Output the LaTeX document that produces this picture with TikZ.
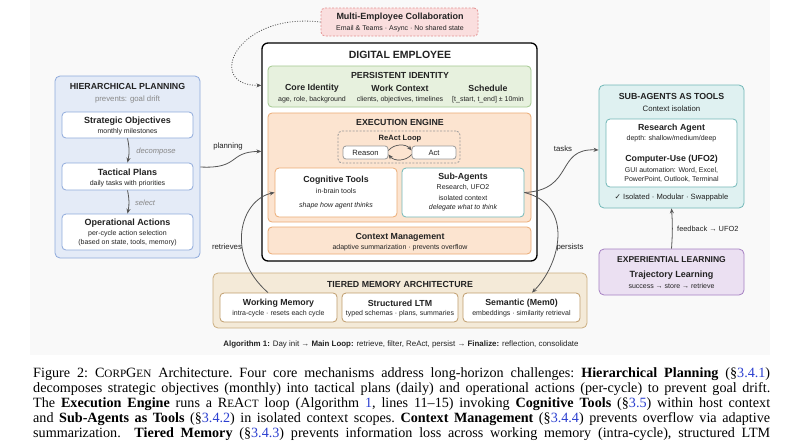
\documentclass[tikz,border=0pt]{standalone}
\usepackage{fontspec}
\setmainfont{Liberation Sans}
\newfontfamily\capfont{Liberation Serif}
\newfontfamily\symfont{DejaVu Sans}
\usetikzlibrary{fit,arrows.meta}
\definecolor{bluef}{HTML}{E4EBF7}\definecolor{blued}{HTML}{8EAADB}
\definecolor{greenf}{HTML}{E7F1DE}\definecolor{greend}{HTML}{A3C98F}
\definecolor{orangef}{HTML}{FCE4D0}\definecolor{oranged}{HTML}{EBAB74}
\definecolor{tealf}{HTML}{DFF1F1}\definecolor{teald}{HTML}{72B8B8}
\definecolor{purplef}{HTML}{EBE0F2}\definecolor{purpled}{HTML}{A681C3}
\definecolor{tanf}{HTML}{F4EAD8}\definecolor{tand}{HTML}{CBAE80}\definecolor{tanin}{HTML}{BF9C6B}
\definecolor{pinkf}{HTML}{FADEDE}\definecolor{pinkd}{HTML}{E39292}
\definecolor{grayd}{HTML}{9A9A9A}\definecolor{arrowc}{HTML}{555555}
\definecolor{txt}{HTML}{222222}\definecolor{lgray}{HTML}{888888}
\definecolor{lnkc}{HTML}{2B3FD0}\definecolor{panel}{HTML}{F9F9F9}
\newcommand\fz[1]{\fontsize{#1pt}{#1pt}\selectfont}
\newcommand\lnk[1]{\textcolor{lnkc}{#1}}
\newcommand\smc[1]{{\fontsize{11.2pt}{15pt}\selectfont #1}}
\tikzset{
 bx/.style={rounded corners=4pt, line width=0.8pt, inner sep=0pt},
 hdr/.style={font=\fz{8.8}\bfseries, text=txt, inner sep=0pt},
 ttl/.style={font=\fz{8.8}\bfseries, text=txt, inner sep=0pt},
 sub/.style={font=\fz{7}, text=txt, inner sep=0pt},
 ital/.style={font=\fz{7}\itshape, text=txt, inner sep=0pt},
 clab/.style={font=\fz{7.8}, text=txt, inner sep=0pt},
 conn/.style={-{Stealth[length=5pt,width=4pt]}, line width=0.8pt, draw=arrowc},
}
\begin{document}
\begin{tikzpicture}[x=1pt,y=-1pt]
\useasboundingbox (0,0) rectangle (800,445);
\fill[white] (0,0) rectangle (800,445);
\fill[panel] (30,0) rectangle (770,355);
% collaboration
\node[bx, fill=pinkf, draw=pinkd, dash pattern=on 2pt off 1.5pt, fit={(321,8)(478,36)}] (collab) {};
\node[ttl, font=\fz{9}\bfseries] (collabt) at (400,17) {Multi-Employee Collaboration};
\node[sub] (collabs) at (400,28.5) {Email \& Teams · Async · No shared state};
% digital employee
\node[rounded corners=6pt, line width=1.3pt, draw=black, fill=white, inner sep=0pt, fit={(262,43)(537,261)}] (de) {};
\node[ttl, font=\fz{10.5}\bfseries] (det) at (400,55) {DIGITAL EMPLOYEE};
% persistent identity
\node[bx, fill=greenf, draw=greend, fit={(268,66)(531,107)}] (pi) {};
\node[hdr] (pit) at (400,75) {PERSISTENT IDENTITY};
\node[ttl] (ci) at (312,88.5) {Core Identity};
\node[sub] (cis) at (312,99.5) {age, role, background};
\node[ttl] (wc) at (400,88.5) {Work Context};
\node[sub] (wcs) at (400,99.5) {clients, objectives, timelines};
\node[ttl] (sch) at (488,88.5) {Schedule};
\node[sub] (schs) at (488,99.5) {[t\_start, t\_end] ± 10min};
% execution engine
\node[bx, fill=orangef, draw=oranged, fit={(268,113)(531,222)}] (ee) {};
\node[hdr] (eet) at (400,122) {EXECUTION ENGINE};
\node[bx, draw=grayd, dash pattern=on 2pt off 1.5pt, fit={(338,131)(460,163)}] (react) {};
\node[ttl, font=\fz{7.6}\bfseries] (reactt) at (400,138.5) {ReAct Loop};
\node[bx, rounded corners=3pt, draw=grayd, fill=white, fit={(343,146)(388,159)}] (reason) {};
\node[sub, font=\fz{7.6}] (reasont) at (reason.center) {Reason};
\node[bx, rounded corners=3pt, draw=grayd, fill=white, fit={(412,146)(456,159)}] (act) {};
\node[sub, font=\fz{7.6}] (actt) at (act.center) {Act};
\draw[conn, line width=0.7pt] ([yshift=2pt]reason.east) to[bend left=50] ([yshift=2pt]act.west);
\draw[conn, line width=0.7pt] ([yshift=-2pt]act.west) to[bend left=50] ([yshift=-2pt]reason.east);
\node[bx, fill=white, draw=oranged, fit={(275,168)(397,217)}] (cog) {};
\node[ttl] (cogt) at (336,180) {Cognitive Tools};
\node[sub] (cogs) at (336,191) {in-brain tools};
\node[ital] (cogi) at (336,206) {shape how agent thinks};
\node[bx, fill=white, draw=teald, fit={(402,168)(524,217)}] (sa) {};
\node[ttl] (sat1) at (463,177) {Sub-Agents};
\node[sub] (sas1) at (463,187.5) {Research, UFO2};
\node[sub] (sas2) at (463,197.5) {isolated context};
\node[ital] (sai) at (463,208) {delegate what to think};
\node[bx, fill=orangef, draw=oranged, fit={(268,227)(531,254)}] (cm) {};
\node[ttl] (cmt) at (400,237) {Context Management};
\node[sub] (cms) at (400,248) {adaptive summarization · prevents overflow};
% hierarchical planning
\node[bx, rounded corners=5pt, fill=bluef, draw=blued, fit={(55,76)(200,258)}] (hp) {};
\node[hdr] (hpt) at (127.5,86) {HIERARCHICAL PLANNING};
\node[sub, font=\fz{7.8}, text=lgray] (hps) at (127.5,99) {prevents: goal drift};
\node[bx, fill=white, draw=blued, fit={(62,112)(193,138)}] (so) {};
\node[ttl, font=\fz{9}\bfseries] (sot) at (127.5,121) {Strategic Objectives};
\node[sub] (sos) at (127.5,132) {monthly milestones};
\node[bx, fill=white, draw=blued, fit={(62,163)(193,190)}] (tp) {};
\node[ttl, font=\fz{9}\bfseries] (tpt) at (127.5,172.5) {Tactical Plans};
\node[sub] (tps) at (127.5,183.5) {daily tasks with priorities};
\node[bx, fill=white, draw=blued, fit={(62,214)(193,250)}] (oa) {};
\node[ttl, font=\fz{9}\bfseries] (oat) at (127.5,223.5) {Operational Actions};
\node[sub] (oas1) at (127.5,234) {per-cycle action selection};
\node[sub] (oas2) at (127.5,243) {(based on state, tools, memory)};
\draw[conn] (so.south) to[bend left=12] (tp.north);
\draw[conn] (tp.south) to[bend left=12] (oa.north);
\node[ital, font=\fz{7.6}\itshape, text=lgray] (dec) at (156,152) {decompose};
\node[ital, font=\fz{7.6}\itshape, text=lgray] (sel) at (145,203) {select};
% sub-agents as tools
\node[bx, rounded corners=5pt, fill=tealf, draw=teald, fit={(599,85)(744,208)}] (sat) {};
\node[hdr] (satt) at (671.5,96) {SUB-AGENTS AS TOOLS};
\node[sub, font=\fz{7.8}] (sats) at (671.5,109) {Context isolation};
\node[bx, fill=white, draw=teald, fit={(606,119)(737,187)}] (sain) {};
\node[ttl] (ra) at (671.5,128.5) {Research Agent};
\node[sub] (ras) at (671.5,139) {depth: shallow/medium/deep};
\node[ttl] (cu) at (671.5,159) {Computer-Use (UFO2)};
\node[sub] (cus1) at (671.5,170) {GUI automation: Word, Excel,};
\node[sub] (cus2) at (671.5,179) {PowerPoint, Outlook, Terminal};
\node[sub, font=\fz{7.6}] (satf) at (671.5,198) {{\symfont ✓} Isolated · Modular · Swappable};
% experiential learning
\node[bx, rounded corners=5pt, fill=purplef, draw=purpled, fit={(599,249)(744,295)}] (el) {};
\node[hdr, font=\fz{8.5}\bfseries] (elt) at (671.5,260) {EXPERIENTIAL LEARNING};
\node[ttl, font=\fz{9}\bfseries] (tl) at (671.5,275) {Trajectory Learning};
\node[sub] (tls) at (671.5,286) {success → store → retrieve};
\draw[conn] (el.north) to[bend right=4] (sat.south);
\node[clab, anchor=west, font=\fz{7.4}] (fb) at (677,229) {feedback → UFO2};
% tiered memory
\node[bx, rounded corners=5pt, fill=tanf, draw=tand, fit={(213,273)(587,328)}] (tm) {};
\node[hdr] (tmt) at (400,284) {TIERED MEMORY ARCHITECTURE};
\node[bx, fill=white, draw=tanin, fit={(220,293)(337,322)}] (wm) {};
\node[ttl] (wmt) at (278.5,303) {Working Memory};
\node[sub] (wms) at (278.5,313.5) {intra-cycle · resets each cycle};
\node[bx, fill=white, draw=tanin, fit={(342,293)(458,322)}] (ltm) {};
\node[ttl] (ltmt) at (400,303) {Structured LTM};
\node[sub] (ltms) at (400,313.5) {typed schemas · plans, summaries};
\node[bx, fill=white, draw=tanin, fit={(463,293)(580,322)}] (sem) {};
\node[ttl] (semt) at (521.5,303) {Semantic (Mem0)};
\node[sub] (sems) at (521.5,313.5) {embeddings · similarity retrieval};
% connectors
\draw[conn, dash pattern=on 1pt off 1.5pt] (collab.west) .. controls (235,12) and (205,86) .. ([yshift=-43pt]de.north west);
\draw[conn] (hp.east) .. controls (240,169) and (228,152) .. ([yshift=-109pt]de.north west);
\node[clab] (plan) at (228,146) {planning};
\draw[conn] ([xshift=-10.5pt]wm.north) .. controls (225,255) and (240,200) .. (cog.west);
\node[clab] (ret) at (227,247) {retrieves};
\draw[conn] (sa.east) .. controls (575,190) and (555,148) .. ([yshift=-3.5pt]sat.west);
\node[clab] (tasks) at (563,149) {tasks};
\draw[conn] (sa.east) .. controls (575,205) and (560,265) .. ([xshift=10.5pt]sem.north);
\node[clab] (pers) at (570,247) {persists};
% algorithm line
\node[inner sep=0pt, anchor=base, font=\fz{7.9}, text=txt] (alg) at (401,346.5) {\textbf{Algorithm 1:} Day init → \textbf{Main Loop:} retrieve, filter, ReAct, persist → \textbf{Finalize:} reflection, consolidate};
% caption
\node[anchor=base west, inner sep=0pt, text width=737pt, align=justify, font=\capfont\fontsize{14.15pt}{15pt}\selectfont\frenchspacing] (cap) at (33,377) {Figure 2: C\smc{ORP}G\smc{EN} Architecture. Four core mechanisms address long-horizon challenges: \textbf{Hierarchical Planning} (§\lnk{3.4.1})\linebreak decomposes strategic objectives (monthly) into tactical plans (daily) and operational actions (per-cycle) to prevent goal drift.\linebreak The \textbf{Execution Engine} runs a R\smc{E}A\smc{CT} loop (Algorithm \lnk{1}, lines 11–15) invoking \textbf{Cognitive Tools} (§\lnk{3.5}) within host context\linebreak and \textbf{Sub-Agents as Tools} (§\lnk{3.4.2}) in isolated context scopes. \textbf{Context Management} (§\lnk{3.4.4}) prevents overflow via adaptive\linebreak summarization. \ \textbf{Tiered Memory} (§\lnk{3.4.3}) prevents information loss across working memory (intra-cycle), structured LTM\linebreak};
\end{tikzpicture}
\end{document}
